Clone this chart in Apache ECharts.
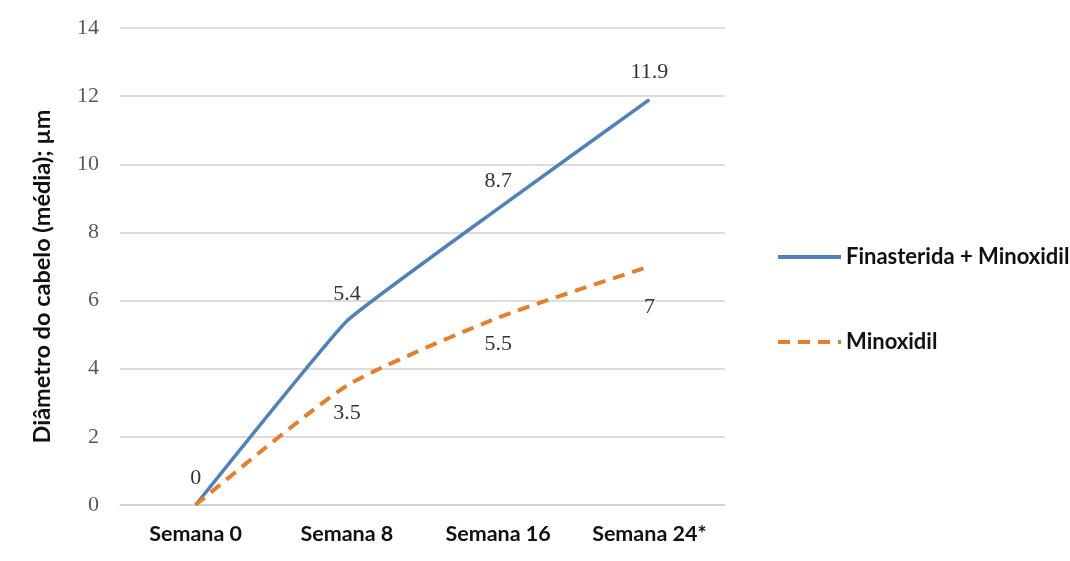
<!DOCTYPE html>
<html>
<head>
<meta charset="utf-8">
<script src="https://cdn.jsdelivr.net/npm/echarts@6/dist/echarts.min.js"></script>
<style>
  html, body { margin: 0; padding: 0; background: #fff; }
  #main { width: 1070px; height: 561px; }
</style>
</head>
<body>
<div id="main"></div>
<script>
var semanas = ['Semana 0', 'Semana 8', 'Semana 16', 'Semana 24*'];
var finasteridaMinox = [0, 5.4, 8.7, 11.9];
var minoxidil = [0, 3.5, 5.5, 7];

var myChart = echarts.init(document.getElementById('main'));

// orange "0" is hidden under the blue one, last label sits lower
var minoxData = minoxidil.map(function (v, i) {
    var item = { value: v };
    if (i == 0) item.label = { show: false };
    if (i == minoxidil.length - 1) item.label = { distance: 30 };
    return item;
});

var option = {
    animation: false,
    backgroundColor: '#fff',
    grid: { left: 120, right: 345, top: 28, bottom: 56 },
    legend: {
        orient: 'vertical',
        left: 771,
        top: 241,
        itemGap: 63,
        itemWidth: 63,
        itemHeight: 14,
        itemStyle: { opacity: 0 },
        lineStyle: { width: 4 },
        textStyle: { fontFamily: 'Lato', fontWeight: 'bold', fontSize: 22, color: '#111' },
        data: ['Finasterida + Minoxidil', 'Minoxidil']
    },
    xAxis: {
        type: 'category',
        data: semanas,
        axisLine: { lineStyle: { color: '#d0d0d0', width: 1.5 } },
        axisTick: { show: false },
        axisLabel: { fontFamily: 'Lato', fontWeight: 'bold', fontSize: 21.5, color: '#111', margin: 18 }
    },
    yAxis: {
        type: 'value',
        min: 0,
        max: 14,
        interval: 2,
        name: 'Diâmetro do cabelo (média); µm',
        nameLocation: 'middle',
        nameGap: 66,
        nameTextStyle: {
            fontFamily: 'Lato', fontWeight: 'bold', fontSize: 23.5, color: '#111',
            padding: [0, 20, 0, 0]
        },
        axisLine: { show: false },
        axisTick: { show: false },
        axisLabel: { fontFamily: 'Liberation Serif', fontSize: 22, color: '#595959', margin: 21 },
        splitLine: { lineStyle: { color: '#d0d0d0', width: 1.5 } }
    },
    series: [
        {
            name: 'Finasterida + Minoxidil',
            type: 'line',
            data: finasteridaMinox,
            symbol: 'circle',
            symbolSize: 0,
            showSymbol: true,
            smooth: 0.1,
            color: '#4f81bd',
            lineStyle: { width: 3.5, color: '#4f81bd' },
            label: {
                show: true, position: 'top', distance: 16,
                fontFamily: 'Liberation Serif', fontSize: 22, color: '#333'
            }
        },
        {
            name: 'Minoxidil',
            type: 'line',
            data: minoxData,
            symbol: 'circle',
            symbolSize: 0,
            showSymbol: true,
            smooth: 0.2,
            color: '#e67e2a',
            lineStyle: { width: 4, color: '#e67e2a', type: [12, 8] },
            label: {
                show: true, position: 'bottom', distance: 16,
                fontFamily: 'Liberation Serif', fontSize: 22, color: '#333'
            }
        }
    ]
};

myChart.setOption(option);
</script>
</body>
</html>
